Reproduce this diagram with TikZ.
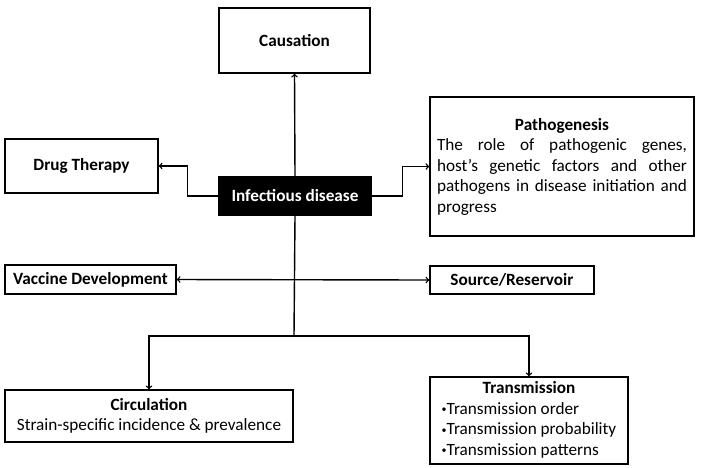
\documentclass[tikz,border=0pt]{standalone}
\usepackage{fontspec}
\setmainfont{Carlito}
\usetikzlibrary{positioning}

\newcommand{\tbul}{\raisebox{1.5pt}{\fontsize{10}{10}\selectfont\textbullet}}

\tikzset{
  topic/.style={draw,line width=1.4pt,inner sep=2pt,align=center,
    font=\fontsize{17.2}{20.5}\selectfont},
  core/.style={topic,fill=black,text=white,font=\fontsize{17.2}{20.5}\selectfont\bfseries},
  link/.style={line width=1.4pt,->},
}

\begin{document}
\begin{tikzpicture}[x=1pt,y=-1pt]
    \useasboundingbox (0,0) rectangle (708,467);
    \node[core,minimum width=152pt,minimum height=38pt] (inf) at (295,196) {Infectious disease};
    \node[topic,minimum width=151pt,minimum height=65pt] (caus) at (294.5,40.5) {\textbf{Causation}};
    \node[topic,minimum width=153pt,minimum height=54pt] (drug) at (81.5,166) {\textbf{Drug Therapy}};
    \node[topic,minimum width=264pt,minimum height=139pt,text width=250pt,align=justify] (patho) at (562,166.5)
      {{\centering\textbf{Pathogenesis}\par}The role of pathogenic genes,\linebreak host's genetic factors and other\linebreak pathogens in disease initiation and\linebreak progress};
    \node[topic,minimum width=171pt,minimum height=29pt] (vac) at (90.5,279.5) {\textbf{Vaccine Development}};
    \node[topic,minimum width=164pt,minimum height=28pt] (src) at (512,280) {\textbf{Source/Reservoir}};
    \node[topic,minimum width=288pt,minimum height=52pt] (circ) at (149,416)
      {\textbf{Circulation}\\Strain-specific incidence \& prevalence};
    \node[topic,minimum width=198pt,minimum height=87pt] (trans) at (529,420.5)
      {\begin{tabular}{@{}l@{}}\multicolumn{1}{c}{\textbf{Transmission}}\\
       \tbul Transmission order\\\tbul Transmission probability\\\tbul Transmission patterns\end{tabular}};
    \coordinate (hub) at (294,336);
    % links out of the core
    \draw[link] (inf.north) -- (caus.south);
    \draw[link] (inf.west) -- ++(-31,0) |- (drug.east);
    \draw[link] (inf.east) -- ++(31,0) |- (patho.west);
    \draw[link,<->] (vac.east) -- (src.west);
    \draw[line width=1.4pt] (inf.south) -- (hub);
    \draw[link] (hub) -| (circ.north);
    \draw[link] (hub) -| (trans.north);
\end{tikzpicture}
\end{document}
